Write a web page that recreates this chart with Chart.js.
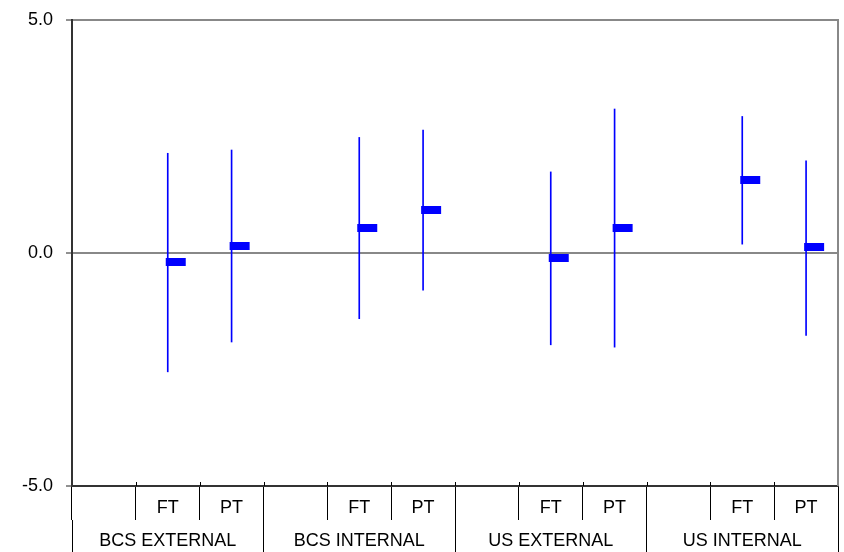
<!DOCTYPE html>
<html>
<head>
<meta charset="utf-8">
<script src="https://cdn.jsdelivr.net/npm/chart.js@4.4.1/dist/chart.umd.min.js"></script>
<style>
  html, body { margin: 0; padding: 0; background: #fff; }
  #wrap { width: 844px; height: 552px; }
</style>
</head>
<body>
<div id="wrap"><canvas id="myChart"></canvas></div>
<script>
// Dados do gráfico
const groups = ['BCS EXTERNAL', 'BCS INTERNAL', 'US EXTERNAL', 'US INTERNAL'];
const subLabels = ['', 'FT', 'PT'];

const ftMean = [-0.19, 0.54, -0.10, 1.56];
const ftLow = [-2.55, -1.41, -1.97, 0.19];
const ftHigh = [2.14, 2.48, 1.74, 2.93];

const ptMean = [0.15, 0.93, 0.54, 0.12];
const ptLow = [-1.91, -0.80, -2.02, -1.77];
const ptHigh = [2.21, 2.64, 3.09, 1.98];

const yTicks = [-5, 0, 5];

// monta as categorias (vazio, FT, PT por grupo)
const labels = [];
const whiskers = [];
const means = [];
groups.forEach((g, i) => {
    labels.push(...subLabels);
    whiskers.push(null, [ftLow[i], ftHigh[i]], [ptLow[i], ptHigh[i]]);
    means.push(null, ftMean[i], ptMean[i]);
});

// marcador da média: retângulo deslocado para a direita da linha
const marker = document.createElement('canvas');
marker.width = 40;
marker.height = 8;
const mctx = marker.getContext('2d');
mctx.fillStyle = '#0000ff';
mctx.fillRect(18, 0, 20, 8);

const font = { family: 'Liberation Sans, Arial, sans-serif', size: 18 };

// borda direita cinza + pequenos traços acima do eixo x
const frame = {
    id: 'frame',
    afterDraw(chart) {
        const a = chart.chartArea;
        const c = chart.ctx;
        const x = chart.scales.x;
        c.save();
        c.strokeStyle = '#888888';
        c.lineWidth = 2;
        c.beginPath();
        c.moveTo(a.right, a.top - 1);
        c.lineTo(a.right, a.bottom);
        c.stroke();
        c.strokeStyle = '#000';
        c.lineWidth = 1;
        c.beginPath();
        for (let i = 1; i < labels.length; i++) {
            const px = Math.round(x.getPixelForValue(i - 0.5)) + 0.5;
            c.moveTo(px, a.bottom - 4);
            c.lineTo(px, a.bottom);
        }
        c.stroke();
        c.restore();
    }
};

const ctx = document.getElementById('myChart').getContext('2d');
const myChart = new Chart(ctx, {
    type: 'bar',
    data: {
        labels: labels,
        datasets: [{
            type: 'line',
            data: means,
            showLine: false,
            pointStyle: marker,
            pointRadius: 3,
            order: 0
        }, {
            type: 'bar',
            data: whiskers,
            backgroundColor: '#0000ff',
            borderWidth: 0,
            barThickness: 1,
            grouped: false,
            order: 1
        }]
    },
    options: {
        responsive: true,
        maintainAspectRatio: false,
        animation: false,
        layout: { padding: { top: 20, right: 6, bottom: 0, left: 0 } },
        plugins: {
            legend: { display: false },
            tooltip: { enabled: false }
        },
        scales: {
            y: {
                min: -5,
                max: 5,
                afterBuildTicks: (s) => { s.ticks = yTicks.map(v => ({ value: v })); },
                afterFit: (s) => {
                    s.width = 72;
                    s.paddingTop = 0;
                    s.paddingBottom = 0;
                },
                ticks: {
                    color: '#000',
                    font: font,
                    padding: 13,
                    callback: (v) => v.toFixed(1)
                },
                grid: {
                    color: (c) => c.tick && c.tick.value === -5 ? '#333333' : '#888888',
                    lineWidth: 2,
                    tickLength: 6,
                    tickColor: '#222222',
                    tickWidth: 1
                },
                border: { color: '#333333', width: 2 }
            },
            x: {
                offset: true,
                weight: 0,
                afterFit: (s) => { s.height = 34; },
                ticks: {
                    color: '#000',
                    font: font,
                    padding: -23,
                    maxRotation: 0,
                    autoSkip: false
                },
                grid: {
                    offset: true,
                    drawOnChartArea: false,
                    tickLength: 34,
                    color: '#000',
                    lineWidth: 1
                },
                border: { color: '#333333', width: 2 }
            },
            x2: {
                type: 'category',
                position: 'bottom',
                labels: groups,
                offset: true,
                weight: 1,
                afterFit: (s) => { s.height = 32; },
                ticks: {
                    color: '#000',
                    font: font,
                    padding: -22,
                    maxRotation: 0,
                    autoSkip: false
                },
                grid: {
                    offset: true,
                    drawOnChartArea: false,
                    tickLength: 32,
                    color: '#000',
                    lineWidth: 1
                },
                border: { display: false }
            }
        }
    },
    plugins: [frame]
});
</script>
</body>
</html>
